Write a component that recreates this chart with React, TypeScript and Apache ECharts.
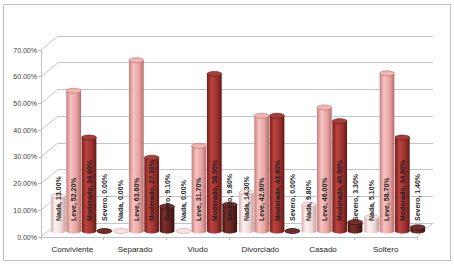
import React, { useEffect, useRef } from "react";
import * as echarts from "echarts";

const categories = ["Conviviente", "Separado", "Viudo", "Divorciado", "Casado", "Soltero"];
const seriesNames = ["Nada", "Leve", "Moderado", "Severo"];
const nada = [13.0, 0.0, 0.0, 14.3, 9.8, 5.1];
const leve = [52.2, 63.6, 31.7, 42.9, 46.0, 58.7];
const moderado = [34.8, 27.3, 58.5, 42.9, 40.9, 34.8];
const severo = [0.0, 9.1, 9.8, 0.0, 3.3, 1.4];
const yTicks = [0, 10, 20, 30, 40, 50, 60, 70];

const palettes = [
  { stops: ["#d6b0af", "#fdf4f4", "#f0d7d6", "#c59d9c"], top: "#f6e3e3", edge: "#c9a2a1" },
  { stops: ["#c67d7b", "#f7c4c2", "#e6a3a1", "#b36a68"], top: "#efb6b4", edge: "#b46c6a" },
  { stops: ["#741d1b", "#bb433f", "#9a302d", "#641816"], top: "#a83e3b", edge: "#5e1614" },
  { stops: ["#461412", "#7c2f2c", "#5f2220", "#3a0f0e"], top: "#70302d", edge: "#360e0d" },
];

const DX = 17;
const DY = 14;

export default function App() {
  const ref = useRef<HTMLDivElement>(null);
  useEffect(() => {
    if (!ref.current) return;
    const chart = echarts.init(ref.current, null, { renderer: "svg" });
    const allData = [nada, leve, moderado, severo];

    const barSeries = allData.map((arr, s) => ({
      type: "custom",
      name: seriesNames[s],
      xAxisIndex: 2,
      yAxisIndex: 2,
      z: 5,
      data: categories.map((_, i) => [i, arr[i]]),
      renderItem: (params: any, api: any) => {
        const idx = api.value(0);
        const v = api.value(1);
        const base = api.coord([idx, 0]);
        const top = api.coord([idx, v]);
        const band = api.size([1, 0])[0];
        const step = band * 0.245;
        const w = band * 0.235;
        const cx = base[0] + (s - 1.5) * step;
        const baseY = base[1];
        const topY = top[1];
        const ry = w * 0.17;
        const p = palettes[s];
        const grad = {
          type: "linear", x: 0, y: 0, x2: 1, y2: 0,
          colorStops: [
            { offset: 0, color: p.stops[0] },
            { offset: 0.3, color: p.stops[1] },
            { offset: 0.7, color: p.stops[2] },
            { offset: 1, color: p.stops[3] },
          ],
        };
        return {
          type: "group",
          children: [
            { type: "ellipse", shape: { cx, cy: baseY, rx: w / 2, ry }, style: { fill: grad } },
            { type: "rect", shape: { x: cx - w / 2, y: topY, width: w, height: Math.max(0, baseY - topY) }, style: { fill: grad } },
            { type: "ellipse", shape: { cx, cy: topY, rx: w / 2, ry }, style: { fill: p.top, stroke: p.edge, lineWidth: 0.6 } },
            {
              type: "text",
              x: cx,
              y: baseY - 10,
              rotation: Math.PI / 2,
              z2: 10,
              style: {
                text: `${seriesNames[s]}, ${v.toFixed(2)}%`,
                x: 0,
                y: 0,
                align: "left",
                verticalAlign: "middle",
                fill: "#1f1f1f",
                fontSize: 7,
                fontWeight: "bold",
                fontFamily: "Liberation Sans, Arial, sans-serif",
              },
            },
          ],
        };
      },
    }));

    const option: any = {
      animation: false,
      backgroundColor: "#ffffff",
      graphic: [
        {
          type: "rect",
          shape: { x: 3.5, y: 4.5, width: 447, height: 256 },
          style: { fill: "none", stroke: "#bdbdbd", lineWidth: 1 },
          silent: true,
        },
      ],
      grid: [
        { left: 58, right: 21, top: 36, bottom: 42 },
        { left: 41, right: 37, top: 50, bottom: 28 },
        { left: 50, right: 28, top: 43, bottom: 34 },
      ],
      xAxis: [
        { gridIndex: 0, type: "category", data: categories, show: false },
        {
          gridIndex: 1,
          type: "category",
          data: categories,
          axisLine: { show: true, lineStyle: { color: "#bfbfbf", width: 1 } },
          axisTick: { show: true, length: 3, lineStyle: { color: "#bfbfbf" } },
          axisLabel: { fontSize: 8, color: "#262626", margin: 8, fontFamily: "Liberation Sans, Arial, sans-serif" },
        },
        { gridIndex: 2, type: "category", data: categories, show: false },
      ],
      yAxis: [
        {
          gridIndex: 0, type: "value", min: 0, max: 70, interval: 10,
          axisLine: { show: false }, axisTick: { show: false }, axisLabel: { show: false },
          splitLine: { show: true, lineStyle: { color: "#c4c4c4", width: 1 } },
        },
        {
          gridIndex: 1, type: "value", min: 0, max: 70, interval: 10,
          axisLine: { show: true, lineStyle: { color: "#bfbfbf", width: 1 } },
          axisTick: { show: true, length: 3, lineStyle: { color: "#bfbfbf" } },
          splitLine: { show: false },
          axisLabel: {
            fontSize: 7, color: "#404040", margin: 4,
            fontFamily: "Liberation Sans, Arial, sans-serif",
            formatter: (v: number) => v.toFixed(2) + "%",
          },
        },
        { gridIndex: 2, type: "value", min: 0, max: 70, interval: 10, show: false },
      ],
      series: [
        {
          type: "custom",
          xAxisIndex: 1,
          yAxisIndex: 1,
          z: 1,
          silent: true,
          data: yTicks.map((v) => [0, v]),
          renderItem: (params: any, api: any) => {
            const cs = params.coordSys;
            const y = api.coord([0, api.value(1)])[1];
            const children: any[] = [
              { type: "line", shape: { x1: cs.x, y1: y, x2: cs.x + DX, y2: y - DY }, style: { stroke: "#c4c4c4", lineWidth: 1 } },
            ];
            if (api.value(1) === 0) {
              children.push({
                type: "line",
                shape: { x1: cs.x + cs.width, y1: y, x2: cs.x + cs.width + DX - 1, y2: y - DY },
                style: { stroke: "#c4c4c4", lineWidth: 1 },
              });
            }
            return { type: "group", children };
          },
        },
        ...barSeries,
      ],
    };
    chart.setOption(option);
    return () => chart.dispose();
  }, []);
  return <div ref={ref} style={{ position: "absolute", left: 0, top: 0, width: 454, height: 265 }} />;
}
